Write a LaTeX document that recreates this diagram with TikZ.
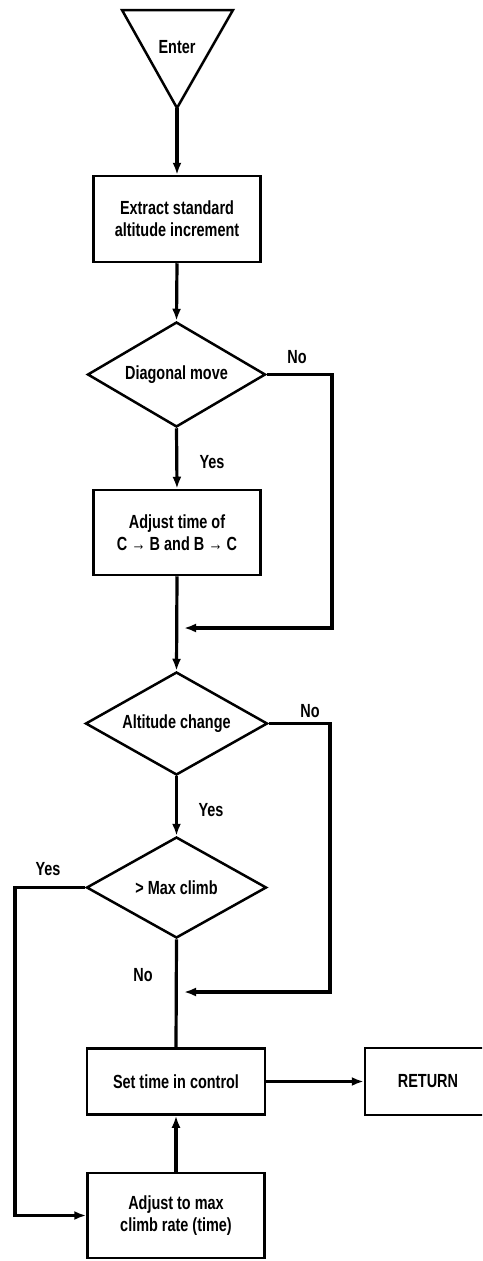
\documentclass[tikz,border=0pt]{standalone}
\usepackage{fontspec}
\setmainfont{Liberation Sans}[FakeStretch=0.76]
\usetikzlibrary{arrows.meta,shapes.geometric}
\begin{document}
\begin{tikzpicture}[x=1pt,y=-1pt,
  font=\fontsize{19}{22}\selectfont\bfseries,
  stepbox/.style={draw,line width=2.5pt,inner sep=0pt,align=center},
  decision/.style={draw,diamond,aspect=1.7,line width=2.5pt,inner sep=0pt},
  flow/.style={line width=3.2pt,-{Latex[length=12pt,width=9pt]}},
  link/.style={line width=3.2pt},
  lbl/.style={inner sep=0pt}]
\useasboundingbox (0,0) rectangle (482,1261);
\clip (0,0) rectangle (482,1261);

% entry triangle
\draw[line width=2.5pt,line join=miter] (122,10) -- (233,10) -- (177,108) -- cycle;
\node[lbl] (enter) at (177,47) {Enter};
\coordinate (entertip) at (177,108);

% process boxes
\node[stepbox,minimum width=167pt,minimum height=86pt] (extract) at (177,219)
  {Extract standard\\altitude increment};
\node[stepbox,minimum width=167pt,minimum height=85pt] (adjtime) at (177,532.5)
  {Adjust time of\\C → B and B → C};
\node[stepbox,minimum width=178pt,minimum height=66pt] (settime) at (176,1081.5)
  {Set time in control};
\node[stepbox,minimum width=126pt,minimum height=67pt] (ret) at (428,1081.5)
  {RETURN};
\node[stepbox,minimum width=177pt,minimum height=85pt] (adjmax) at (176,1215.5)
  {Adjust to max\\climb rate (time)};

% decisions
\node[decision,minimum width=178pt,minimum height=105pt] (diag) at (176.5,374.5) {Diagonal move};
\node[decision,minimum width=182pt,minimum height=103pt] (alt) at (176.5,723.5) {Altitude change};
\node[decision,minimum width=180pt,minimum height=101pt] (climb) at (176.5,887.5) {> Max climb};

% junction points on the main line
\coordinate (j1) at (184,628);
\coordinate (j2) at (184,992);

% main flow
\draw[flow] (entertip) -- (extract.north);
\draw[flow] (extract.south) -- (diag.north);
\draw[flow] (diag.south) -- (adjtime.north);
\draw[flow] (adjtime.south) -- (alt.north);
\draw[flow] (alt.south) -- (climb.north);
\draw[link] (climb.south) -- (settime.north);
\draw[flow] (settime.east) -- (ret.west);
\draw[flow] (adjmax.north) -- (settime.south);

% branches
\draw[flow,line join=miter] (diag.east) -- (332,374.5) -- (332,628) -- (j1);
\draw[flow,line join=miter] (alt.east) -- (330,723.5) -- (330,992) -- (j2);
\draw[flow,line join=miter] (climb.west) -- (15,887.5) -- (15,1215.5) -- (adjmax.west);

% branch labels
\node[lbl] (no1) at (297,357) {No};
\node[lbl] (yes1) at (212,462) {Yes};
\node[lbl] (no2) at (310,711) {No};
\node[lbl] (yes2) at (211,810) {Yes};
\node[lbl] (yes3) at (48,869) {Yes};
\node[lbl] (no3) at (143,975) {No};
\end{tikzpicture}
\end{document}
